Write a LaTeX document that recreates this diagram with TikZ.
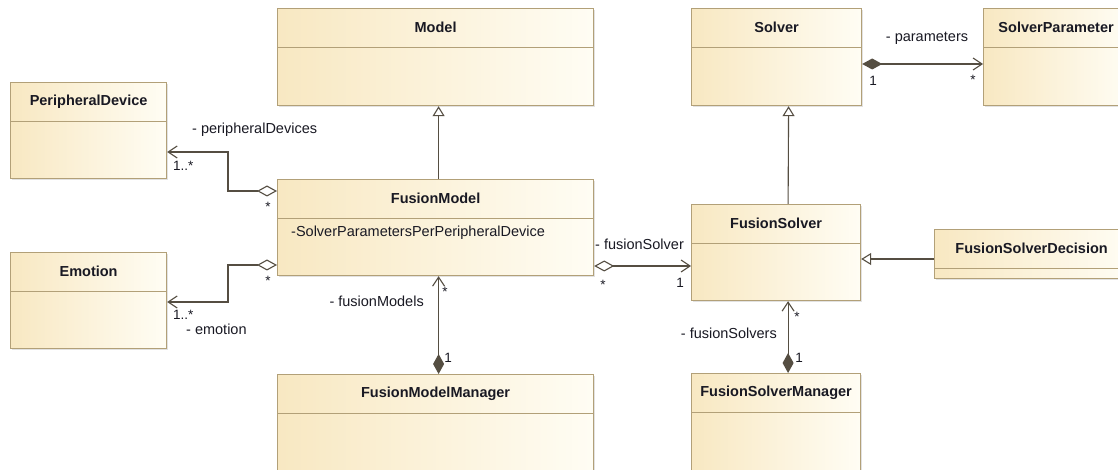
\documentclass[tikz,border=0pt]{standalone}
\usepackage{fontspec}
\setmainfont{Liberation Sans}
\usetikzlibrary{arrows.meta,calc,shadows}
\definecolor{ClassLine}{RGB}{178,160,120}
\definecolor{ClassLeft}{RGB}{248,232,194}
\definecolor{ClassRight}{RGB}{255,253,244}
\definecolor{LinkGray}{RGB}{85,78,66}
\definecolor{TextInk}{RGB}{25,25,35}

\begin{document}
\begin{tikzpicture}[x=1bp,y=-1bp,
    font=\fontsize{14.5bp}{17bp}\selectfont,
    cls/.style={draw=ClassLine,line width=1.2bp,left color=ClassLeft,right color=ClassRight,
      anchor=north west,inner sep=0pt,
      drop shadow={shadow xshift=1.5bp,shadow yshift=-1.5bp,fill=black!22},
      path picture={\draw[ClassLine,line width=1.2bp]
        ([yshift=-39bp]path picture bounding box.north west)--([yshift=-39bp]path picture bounding box.north east);},
      label={[anchor=center,yshift=-19.5bp,text=TextInk,font=\fontsize{14.5bp}{17bp}\selectfont\bfseries]north:#1}},
    lbl/.style={inner sep=0pt,text=TextInk},
    mult/.style={inner sep=0pt,text=TextInk,font=\fontsize{13.5bp}{15bp}\selectfont},
    gen/.style={draw=LinkGray,line width=1.1bp,-{Triangle[fill=white,length=10bp,width=12bp]}},
    agg/.style={draw=LinkGray,line width=1.1bp,
      {Diamond[fill=white,length=20bp,width=11bp]}-{Straight Barb[length=9bp,width=12bp]}},
    comp/.style={draw=LinkGray,line width=1.1bp,
      {Diamond[fill=LinkGray,length=20bp,width=11bp]}-{Straight Barb[length=9bp,width=12bp]}}]
  \path[use as bounding box,fill=white] (0,0) rectangle (1118,470);

  \node[cls=Model,minimum width=316bp,minimum height=97bp] (model) at (277,8) {};
  \node[cls=Solver,minimum width=170bp,minimum height=97bp] (solver) at (691,8) {};
  \node[cls=SolverParameter,minimum width=145bp,minimum height=97bp] (sparam) at (983,8) {};
  \node[cls=PeripheralDevice,minimum width=156bp,minimum height=96bp] (pdevice) at (10,82) {};
  \node[cls=FusionModel,minimum width=316bp,minimum height=96bp] (fmodel) at (277,179) {};
  \node[cls=Emotion,minimum width=156bp,minimum height=96bp] (emotion) at (10,252) {};
  \node[cls=FusionSolver,minimum width=169bp,minimum height=96bp] (fsolver) at (691,204) {};
  \node[cls=FusionSolverDecision,minimum width=194bp,minimum height=49bp] (fsdecision) at (934,229) {};
  \node[cls=FusionModelManager,minimum width=316bp,minimum height=97bp] (fmmanager) at (277,374) {};
  \node[cls=FusionSolverManager,minimum width=169bp,minimum height=97bp] (fsmanager) at (691,373) {};
  \node[lbl,anchor=west] (fmattr) at ($(fmodel.north west)+(14,54)$) {-SolverParametersPerPeripheralDevice};

  \draw[gen] ([xshift=3bp]fmodel.north) -- ([xshift=3bp]model.south);
  \draw[gen] ([xshift=12bp]fsolver.north) -- ([xshift=12bp]solver.south);
  \draw[gen] ($(fsdecision.north west)+(0,30)$) -- ($(fsolver.north east)+(0,55)$);
  \draw[agg] ($(fmodel.north west)+(0,12)$) -| (228,152) -- ($(pdevice.north east)+(0,70)$);
  \draw[agg] ($(fmodel.north west)+(0,86)$) -| (228,302) -- ($(emotion.north east)+(0,50)$);
  \draw[agg] ($(fmodel.north east)+(0,87)$) -- ($(fsolver.north west)+(0,62)$);
  \draw[comp] ([xshift=3bp]fmmanager.north) -- ([xshift=3bp]fmodel.south);
  \draw[comp] ([xshift=12bp]fsmanager.north) -- ([xshift=12bp]fsolver.south);
  \draw[comp] ($(solver.north east)+(0,56)$) -- ($(sparam.north west)+(0,56)$);

  \node[lbl,anchor=west] (pdrole) at (192,130) {- peripheralDevices};
  \node[mult,anchor=west] (pdmult) at (173,166) {1..*};
  \node[mult] (pdstar) at (268,207) {*};
  \node[mult] (emstar) at (268,281) {*};
  \node[mult,anchor=west] (emmult) at (173,315) {1..*};
  \node[lbl,anchor=west] (emrole) at (186,329) {- emotion};
  \node[lbl,anchor=west] (fsrole) at (595,244) {- fusionSolver};
  \node[mult] (fsstar) at (603,285) {*};
  \node[mult] (fsone) at (680,283) {1};
  \node[lbl,anchor=east] (fmrole) at (424,301) {- fusionModels};
  \node[mult] (fmstar) at (445,292) {*};
  \node[mult] (fmone) at (448,358) {1};
  \node[lbl,anchor=east] (fslrole) at (777,333) {- fusionSolvers};
  \node[mult] (fslstar) at (797,317) {*};
  \node[mult] (fslone) at (799,358) {1};
  \node[lbl] (sprole) at (927,38) {- parameters};
  \node[mult] (spone) at (873,81) {1};
  \node[mult] (spstar) at (973,80) {*};
\end{tikzpicture}
\end{document}
